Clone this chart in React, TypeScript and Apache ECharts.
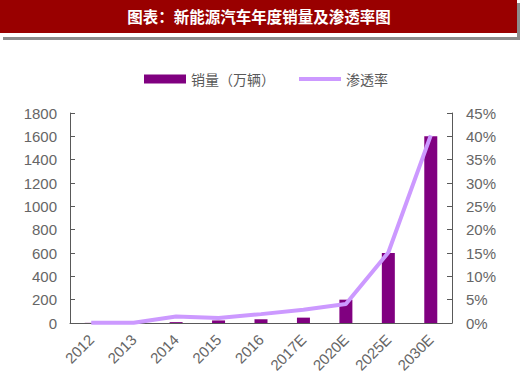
import React, { useEffect, useRef } from "react";
import * as echarts from "echarts";

const titleText = "图表：新能源汽车年度销量及渗透率图";
const categories = ["2012", "2013", "2014", "2015", "2016", "2017E", "2020E", "2025E", "2030E"];
const salesName = "销量（万辆）";
const rateName = "渗透率";
const salesValues = [1.3, 1.8, 7.5, 22, 32, 46, 200, 600, 1600];
const rateValues = [0.05, 0.05, 1.4, 1.05, 1.9, 2.85, 4.05, 15.1, 40.2];

const AXIS_COLOR = "#595959";
const LABEL_COLOR = "#666666";
const LATIN = "'Liberation Sans', Arial, 'Noto Sans CJK SC', sans-serif";

export default function App() {
  const ref = useRef<HTMLDivElement>(null);
  useEffect(() => {
    if (!ref.current) return;
    const chart = echarts.init(ref.current, null, { renderer: "svg" });
    chart.setOption({
      animation: false,
      backgroundColor: "#ffffff",
      graphic: [
        { type: "rect", shape: { x: 3, y: 3, width: 517, height: 37 }, style: { fill: "#8c8c8c" }, z: 0 },
        { type: "rect", shape: { x: 0, y: 0, width: 517, height: 37 }, style: { fill: "#ffffff" }, z: 1 },
        { type: "rect", shape: { x: 0, y: 0, width: 517, height: 33 }, style: { fill: "#990000" }, z: 2 },
        {
          type: "text",
          x: 259,
          y: 15.5,
          z: 3,
          style: {
            text: titleText,
            fill: "#ffffff",
            font: "bold 15.5px 'Noto Sans CJK SC', sans-serif",
            align: "center",
            verticalAlign: "middle",
          },
        },
      ],
      legend: {
        left: 139,
        top: 67,
        itemWidth: 42,
        itemHeight: 9,
        itemGap: 24,
        textStyle: { color: "#595959", fontSize: 14, fontFamily: "'Noto Sans CJK SC', sans-serif" },
        data: [
          { name: salesName, icon: "rect" },
          { name: rateName, icon: "path://M0 0 H42 V4 H0 Z" },
        ],
      },
      grid: { left: 70, right: 68, top: 113, bottom: 58, containLabel: false },
      xAxis: {
        type: "category",
        data: categories,
        axisLine: { lineStyle: { color: AXIS_COLOR, width: 1 } },
        axisTick: { inside: true, length: 4, lineStyle: { color: AXIS_COLOR } },
        axisLabel: {
          rotate: 45,
          interval: 0,
          margin: 14,
          color: LABEL_COLOR,
          fontSize: 15,
          fontFamily: LATIN,
        },
      },
      yAxis: [
        {
          type: "value",
          min: 0,
          max: 1800,
          interval: 200,
          splitLine: { show: false },
          axisLine: { show: true, lineStyle: { color: AXIS_COLOR } },
          axisTick: { show: true, inside: true, length: 5, lineStyle: { color: AXIS_COLOR } },
          axisLabel: {
            color: LABEL_COLOR,
            fontSize: 15,
            fontFamily: LATIN,
            margin: 13,
            formatter: (v: number) => String(v),
          },
        },
        {
          type: "value",
          min: 0,
          max: 45,
          interval: 5,
          splitLine: { show: false },
          axisLine: { show: true, lineStyle: { color: AXIS_COLOR } },
          axisTick: { show: true, inside: true, length: 5, lineStyle: { color: AXIS_COLOR } },
          axisLabel: { color: LABEL_COLOR, fontSize: 15, fontFamily: LATIN, margin: 14, formatter: "{value}%" },
        },
      ],
      series: [
        {
          name: salesName,
          type: "bar",
          data: salesValues,
          barWidth: 13,
          itemStyle: { color: "#800080" },
          yAxisIndex: 0,
          z: 2,
        },
        {
          name: rateName,
          type: "line",
          data: rateValues,
          yAxisIndex: 1,
          symbol: "none",
          showSymbol: false,
          lineStyle: { color: "#cc99ff", width: 4 },
          itemStyle: { color: "#cc99ff" },
          z: 3,
        },
      ],
    });
    return () => chart.dispose();
  }, []);
  return <div ref={ref} style={{ position: "fixed", left: 0, top: 0, width: 520, height: 381 }} />;
}
